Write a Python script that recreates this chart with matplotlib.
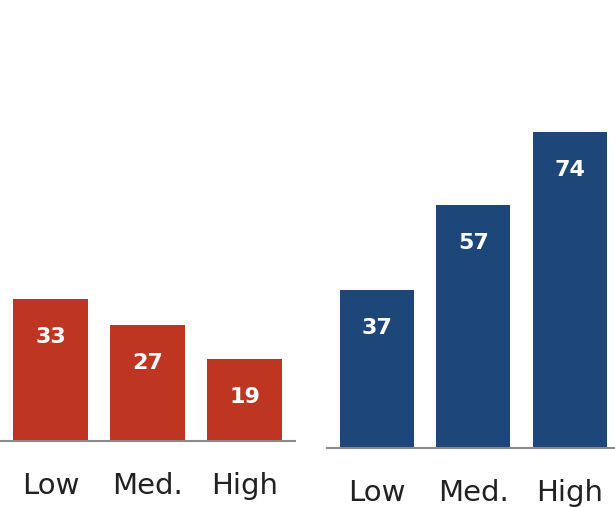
import matplotlib.pyplot as plt

# datos
categorias = ['Low', 'Med.', 'High']
valores_rojo = [33, 27, 19]
valores_azul = [37, 57, 74]

ROJO = '#BE3522'
AZUL = '#1D4679'
W, H = 615, 507

fig = plt.figure(figsize=(W / 100, H / 100), dpi=100)

def panel(x0, x1, base, escala, valores, color, ypad):
    # ejes en pixeles -> fracciones de figura
    top = base - 80 * escala
    ax = fig.add_axes([x0 / W, (H - base) / H, (x1 - x0) / W, (base - top) / H])
    pos = list(range(len(categorias)))
    ax.bar(pos, valores, width=0.77, color=color)
    ax.set_ylim(0, 80)
    ax.set_xticks(pos)
    ax.set_xticklabels(categorias, fontsize=21, color='#222222')
    ax.tick_params(axis='x', length=0, pad=ypad)
    ax.set_yticks([])
    for s in ['top', 'right', 'left']:
        ax.spines[s].set_visible(False)
    ax.spines['bottom'].set_color('#8a8a8a')
    ax.spines['bottom'].set_linewidth(1.5)
    for p, v in zip(pos, valores):
        ax.annotate(str(v), (p, v), xytext=(0, -38), textcoords='offset pixels',
                    ha='center', va='center', color='white',
                    fontsize=16, fontweight='bold')
    return ax

ax1 = panel(0, 295, 441, 4.31, valores_rojo, ROJO, 22)
ax1.set_xlim(-0.52, 2.52)
ax2 = panel(327, 615, 448, 4.27, valores_azul, AZUL, 22)
ax2.set_xlim(-0.52, 2.47)

fig.savefig('out.png', dpi=100)
